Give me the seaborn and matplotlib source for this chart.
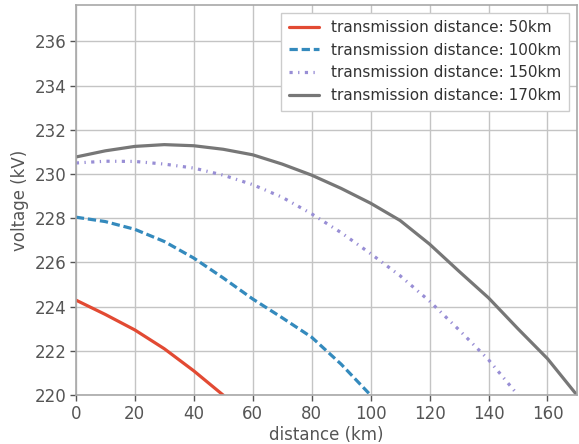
import numpy as np
import pandas as pd
import seaborn as sns
import matplotlib
matplotlib.use("Agg")
import matplotlib.pyplot as plt

# voltage along the line (kV) read every 10 km, one list per transmission distance
x_50 = [0, 10, 20, 30, 40, 50]
v_50 = [224.3, 223.65, 222.95, 222.1, 221.1, 220.0]

x_100 = [0, 10, 20, 30, 40, 50, 60, 70, 80, 90, 100]
v_100 = [228.05, 227.85, 227.5, 226.95, 226.2, 225.3, 224.35, 223.5, 222.62, 221.4, 220.0]

x_150 = [0, 10, 20, 30, 40, 50, 60, 70, 80, 90, 100, 110, 120, 130, 140, 150]
v_150 = [230.5, 230.58, 230.57, 230.45, 230.27, 229.95, 229.52, 228.95, 228.2,
         227.35, 226.4, 225.4, 224.25, 222.95, 221.6, 220.0]

x_170 = [0, 10, 20, 30, 40, 50, 60, 70, 80, 90, 100, 110, 120, 130, 140, 150, 160, 170]
v_170 = [230.77, 231.05, 231.25, 231.33, 231.28, 231.12, 230.87, 230.45, 229.95,
         229.35, 228.68, 227.9, 226.83, 225.6, 224.4, 223.0, 221.65, 220.0]

labels = ["transmission distance: 50km", "transmission distance: 100km",
          "transmission distance: 150km", "transmission distance: 170km"]
colors = ["#E24A33", "#348ABD", "#988ED5", "#777777"]
styles = ["-", (0, (2.6, 1.2)), (0, (1.0, 1.7, 0.4, 1.7)), "-"]

sns.set_style("whitegrid", {
    "axes.edgecolor": "#a8a8a8",
    "grid.color": "#c4c4c4",
    "axes.labelcolor": "#555555",
    "xtick.color": "#555555",
    "ytick.color": "#555555",
    "xtick.bottom": True,
    "ytick.left": True,
})
plt.rcParams["font.family"] = ["DejaVu Sans"]

fig, ax = plt.subplots(figsize=(5.79, 4.44), dpi=100)
fig.subplots_adjust(left=0.131, right=0.9965, top=0.989, bottom=0.110)

series = [(x_50, v_50), (x_100, v_100), (x_150, v_150), (x_170, v_170)]
for (xs, vs), lab, col, ls in zip(series, labels, colors, styles):
    df = pd.DataFrame({"distance": xs, "voltage": vs})
    sns.lineplot(data=df, x="distance", y="voltage", ax=ax, color=col,
                 linewidth=2.3, label=lab, linestyle=ls)

ax.set_xlim(0, 170)
ax.set_ylim(220, 237.65)
ax.set_xticks(np.arange(0, 161, 20))
ax.set_yticks(np.arange(220, 237, 2))
ax.tick_params(labelsize=12, length=4, width=1, colors="#555555", pad=3)
ax.set_xlabel("distance (km)", fontsize=12, labelpad=2)
ax.set_ylabel("voltage (kV)", fontsize=12, labelpad=4)
for s in ax.spines.values():
    s.set_linewidth(1.2)
ax.grid(True, linewidth=1.0)

leg = ax.legend(loc="upper right", fontsize=11, frameon=True, fancybox=False,
                framealpha=1, edgecolor="#cccccc", borderpad=0.5)
for t in leg.get_texts():
    t.set_color("#333333")

fig.savefig("out.png", dpi=100)
